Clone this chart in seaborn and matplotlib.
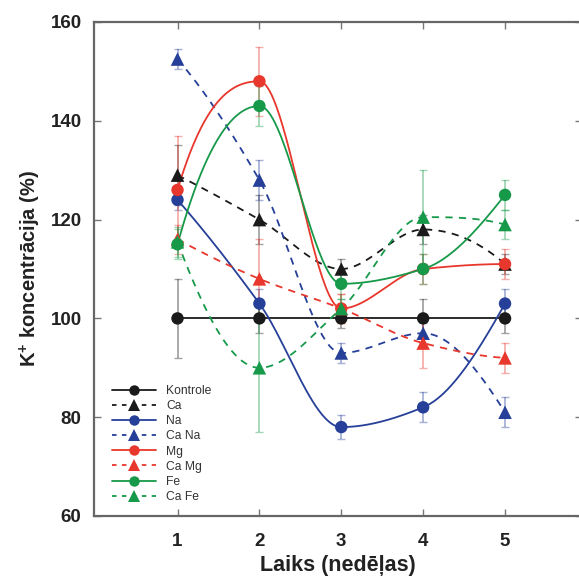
import numpy as np
import pandas as pd
import matplotlib
matplotlib.use("Agg")
import matplotlib.pyplot as plt
from matplotlib.lines import Line2D
import seaborn as sns

# ---- data -------------------------------------------------------------
weeks = [1, 2, 3, 4, 5]
series_names = ["Kontrole", "Ca", "Na", "Ca Na", "Mg", "Ca Mg", "Fe", "Ca Fe"]

kontrole = [100, 100, 100, 100, 100]
ca = [129, 120, 110, 118, 111]
na = [124, 103, 78, 82, 103]
ca_na = [152.5, 128, 93, 97, 81]
mg = [126, 148, 102, 110, 111]
ca_mg = [116, 108, 102, 95, 92]
fe = [115, 143, 107, 110, 125]
ca_fe = [115.5, 90, 102, 120.5, 119]

kontrole_err = [8, 3, 2, 4, 3]
ca_err = [6, 5, 2, 3, 2]
na_err = [2, 3, 2.5, 3, 3]
ca_na_err = [2, 4, 2, 2, 3]
mg_err = [11, 7, 3, 3, 3]
ca_mg_err = [3, 8, 3, 5, 3]
fe_err = [3, 4, 3, 3, 3]
ca_fe_err = [3, 13, 2, 9.5, 3]

values = [kontrole, ca, na, ca_na, mg, ca_mg, fe, ca_fe]
errors = [kontrole_err, ca_err, na_err, ca_na_err, mg_err, ca_mg_err, fe_err, ca_fe_err]

BLACK = "#1a1a1a"
BLUE = "#263f98"
RED = "#e8372c"
GREEN = "#17994a"
colors = [BLACK, BLACK, BLUE, BLUE, RED, RED, GREEN, GREEN]
markers = ["o", "^", "o", "^", "o", "^", "o", "^"]
dashed = [False, True, False, True, False, True, False, True]


def pchip(x, y, n=200):
    """Shape-preserving (Fritsch-Carlson) cubic through (x, y) on a dense grid."""
    x = np.asarray(x, float)
    y = np.asarray(y, float)
    h = np.diff(x)
    delta = np.diff(y) / h
    k = len(x)
    d = np.zeros(k)
    for i in range(1, k - 1):
        if delta[i - 1] * delta[i] > 0:
            w1 = 2 * h[i] + h[i - 1]
            w2 = h[i] + 2 * h[i - 1]
            d[i] = (w1 + w2) / (w1 / delta[i - 1] + w2 / delta[i])
    for end, (dd0, dd1, h0, h1) in ((0, (delta[0], delta[1], h[0], h[1])),
                                     (k - 1, (delta[-1], delta[-2], h[-1], h[-2]))):
        v = ((2 * h0 + h1) * dd0 - h0 * dd1) / (h0 + h1)
        if np.sign(v) != np.sign(dd0):
            v = 0.0
        elif np.sign(dd0) != np.sign(dd1) and abs(v) > abs(3 * dd0):
            v = 3 * dd0
        d[end] = v
    xs = np.linspace(x[0], x[-1], n)
    idx = np.clip(np.searchsorted(x, xs) - 1, 0, k - 2)
    hh = h[idx]
    t = (xs - x[idx]) / hh
    h00 = 2 * t**3 - 3 * t**2 + 1
    h10 = t**3 - 2 * t**2 + t
    h01 = -2 * t**3 + 3 * t**2
    h11 = t**3 - t**2
    ys = h00 * y[idx] + h10 * hh * d[idx] + h01 * y[idx + 1] + h11 * hh * d[idx + 1]
    return xs, ys


sns.set_style("ticks")
plt.rcParams["font.family"] = ["Liberation Sans", "DejaVu Sans"]
plt.rcParams["mathtext.fontset"] = "custom"
plt.rcParams["mathtext.rm"] = "Liberation Sans:bold"
plt.rcParams["mathtext.bf"] = "Liberation Sans:bold"

fig = plt.figure(figsize=(5.79, 5.79), dpi=100)
ax = fig.add_axes([94 / 579, 1 - 516 / 579, 488 / 579, 494 / 579])

for name, vals, errs, col, mk, ds in zip(series_names, values, errors, colors, markers, dashed):
    ax.errorbar(weeks, vals, yerr=errs, fmt="none", ecolor=col, alpha=0.4,
                elinewidth=1.3, capsize=3, capthick=1.0, zorder=1)
    if name == "Kontrole":
        xs, ys = np.array(weeks, float), np.array(vals, float)
    else:
        xs, ys = pchip(weeks, vals)
    curve = pd.DataFrame({"x": xs, "y": ys})
    sns.lineplot(data=curve, x="x", y="y", ax=ax, color=col, linewidth=1.3,
                 linestyle=(0, (4, 3.5)) if ds else "-", sort=False,
                 estimator=None, zorder=2)
    pts = pd.DataFrame({"x": weeks, "y": vals})
    sns.scatterplot(data=pts, x="x", y="y", ax=ax, color=col, marker=mk,
                    s=95 if mk == "^" else 80, edgecolor="none", linewidth=0, zorder=3)

ax.set_xlim(-0.02, 5.94)
ax.set_ylim(60, 160)
ax.set_xticks(weeks)
ax.set_yticks([60, 80, 100, 120, 140, 160])
ax.tick_params(direction="in", top=True, right=True, length=5, width=1,
               color="#777777", labelsize=13.5)
ax.tick_params(axis="x", pad=12)
ax.tick_params(axis="y", pad=9)
for lab in ax.get_xticklabels() + ax.get_yticklabels():
    lab.set_fontweight("bold")
    lab.set_color("#222222")
for sp in ax.spines.values():
    sp.set_color("#666666")
    sp.set_linewidth(1.6)

ax.set_xlabel("Laiks (nedēļas)", fontsize=15.5, fontweight="bold", color="#222222", labelpad=4)
ax.set_ylabel(r"K$^{+}$ koncentrācija (%)", fontsize=14.5, fontweight="bold", color="#222222", labelpad=5)

handles = [
    Line2D([0], [0], color=c, marker=m, markersize=8 if m == "^" else 7.5,
           markeredgewidth=0, linewidth=1.3, linestyle=(0, (2.5, 3)) if d else "-")
    for c, m, d in zip(colors, markers, dashed)
]
ax.legend(handles, series_names, loc="upper left", bbox_to_anchor=(112 / 579, 1 - 385 / 579),
          bbox_transform=fig.transFigure, frameon=False, fontsize=8.7,
          handlelength=3.6, handletextpad=0.9, labelspacing=0.26, borderpad=0,
          borderaxespad=0, labelcolor="#333333")

fig.savefig("out.png", dpi=100)
